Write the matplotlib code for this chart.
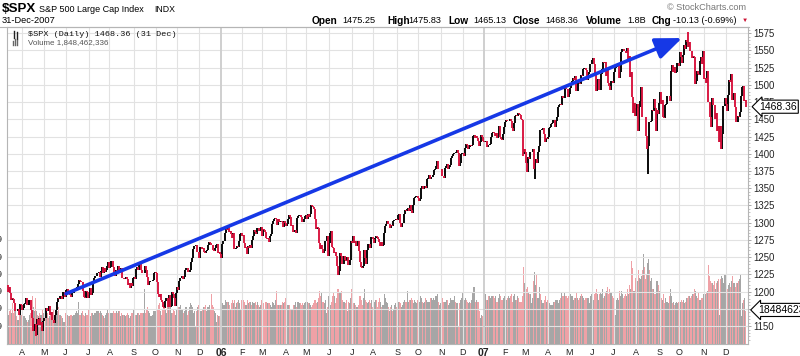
import numpy as np
import pandas as pd
import matplotlib
matplotlib.use("Agg")
import matplotlib.pyplot as plt
from matplotlib.lines import Line2D

plt.rcParams['font.family'] = ['Liberation Sans', 'DejaVu Sans']

# NYSE closed days inside the charted range
holidays = ['2005-03-25', '2005-05-30', '2005-07-04', '2005-09-05', '2005-11-24', '2005-12-26',
            '2006-01-02', '2006-01-16', '2006-02-20', '2006-04-14', '2006-05-29', '2006-07-04',
            '2006-09-04', '2006-11-23', '2006-12-25',
            '2007-01-01', '2007-01-02', '2007-01-15', '2007-02-19', '2007-04-06', '2007-05-28',
            '2007-07-04', '2007-09-03', '2007-11-22', '2007-12-25']

first_open = 1209.3

# daily closes, one row per month (2005 starts 11 Mar)
close_2005 = [
    1200.1, 1206.8, 1197.8, 1188.1, 1190.2, 1189.7, 1183.8, 1171.7, 1172.5, 1172.0, 1174.3, 1165.4, 1181.4, 1180.6,
    1172.9, 1176.1, 1181.4, 1184.1, 1191.1, 1181.2, 1181.2, 1187.8, 1173.8, 1162.1, 1142.6, 1146.0, 1152.8, 1137.5, 1160.0, 1152.1, 1162.1, 1151.8, 1156.4, 1143.2, 1156.9,
    1162.2, 1161.2, 1175.7, 1172.6, 1171.4, 1178.8, 1166.2, 1171.1, 1159.4, 1154.1, 1165.7, 1173.8, 1185.6, 1191.1, 1189.3, 1193.9, 1194.1, 1190.0, 1198.8, 1198.8, 1191.5,
    1202.2, 1204.3, 1196.0, 1197.3, 1194.7, 1191.6, 1197.3, 1198.1, 1200.8, 1203.0, 1206.6, 1211.0, 1217.0, 1216.1, 1213.6, 1213.9, 1200.7, 1191.6, 1190.7, 1201.6, 1199.9, 1191.3,
    1194.4, 1205.0, 1194.9, 1197.9, 1211.9, 1219.4, 1222.2, 1223.3, 1226.5, 1227.9, 1221.1, 1229.4, 1235.2, 1227.0, 1233.7, 1229.0, 1231.2, 1236.8, 1243.7, 1234.2,
    1235.4, 1244.1, 1245.0, 1235.9, 1226.4, 1223.1, 1231.4, 1229.1, 1237.8, 1230.4, 1233.9, 1219.3, 1220.2, 1219.0, 1219.7, 1221.7, 1217.6, 1209.6, 1212.4, 1205.1, 1212.3, 1208.4, 1220.3,
    1221.6, 1218.0, 1233.4, 1236.4, 1231.7, 1241.5, 1240.6, 1231.2, 1227.2, 1227.7, 1237.9, 1231.0, 1221.3, 1210.2, 1214.6, 1215.3, 1215.6, 1215.7, 1216.9, 1227.7, 1228.8,
    1226.7, 1214.5, 1196.4, 1191.5, 1195.9, 1187.3, 1184.9, 1177.7, 1176.8, 1186.6, 1190.1, 1178.1, 1195.8, 1177.8, 1179.6, 1199.4, 1196.5, 1191.4, 1178.9, 1198.4, 1207.0,
    1202.8, 1215.3, 1219.9, 1220.1, 1222.8, 1218.6, 1220.7, 1231.0, 1234.7, 1233.8, 1229.0, 1231.2, 1242.8, 1248.3, 1261.2, 1265.6, 1266.0, 1268.3, 1257.5, 1257.5, 1249.5,
    1264.7, 1265.1, 1262.1, 1263.7, 1257.4, 1255.8, 1259.4, 1260.4, 1267.4, 1272.7, 1270.9, 1267.3, 1259.9, 1259.6, 1262.8, 1268.1, 1268.7, 1256.5, 1258.2, 1254.4, 1248.3,
]
close_2006 = [
    1268.8, 1273.5, 1273.5, 1285.5, 1290.2, 1289.7, 1294.2, 1286.1, 1287.6, 1283.0, 1277.9, 1285.0, 1261.5, 1263.8, 1266.9, 1264.7, 1273.8, 1283.7, 1285.2, 1280.1,
    1282.5, 1270.8, 1264.0, 1265.0, 1254.8, 1265.6, 1263.8, 1267.0, 1262.9, 1275.5, 1280.0, 1289.4, 1287.2, 1283.0, 1292.7, 1287.8, 1289.4, 1294.1, 1280.7,
    1291.2, 1289.1, 1287.2, 1278.3, 1275.9, 1278.5, 1272.2, 1281.4, 1284.1, 1297.5, 1303.0, 1305.3, 1307.3, 1305.1, 1297.2, 1305.0, 1301.7, 1303.0, 1301.6, 1293.2, 1302.9, 1300.3, 1294.9,
    1297.8, 1305.9, 1311.6, 1309.0, 1295.5, 1296.6, 1286.6, 1288.1, 1289.1, 1285.3, 1307.3, 1309.9, 1311.5, 1311.3, 1308.1, 1301.7, 1305.4, 1309.7, 1310.6,
    1305.2, 1313.2, 1308.1, 1312.3, 1325.8, 1324.7, 1322.9, 1320.0, 1305.9, 1291.2, 1294.5, 1292.1, 1270.3, 1261.8, 1267.0, 1262.1, 1256.6, 1258.6, 1272.9, 1280.2, 1251.9, 1270.1,
    1285.7, 1288.2, 1265.3, 1263.9, 1256.2, 1257.9, 1252.3, 1237.4, 1223.7, 1230.0, 1256.2, 1251.5, 1240.1, 1240.1, 1252.2, 1245.6, 1244.5, 1250.6, 1239.2, 1246.0, 1272.9, 1270.2,
    1280.2, 1270.9, 1274.1, 1265.5, 1267.3, 1273.4, 1258.6, 1242.3, 1236.2, 1234.5, 1236.9, 1259.8, 1249.1, 1240.3, 1260.9, 1268.9, 1268.4, 1263.2, 1278.6, 1276.7,
    1270.9, 1277.4, 1280.3, 1279.4, 1275.8, 1271.5, 1266.0, 1271.8, 1266.7, 1268.2, 1285.6, 1295.4, 1297.5, 1302.3, 1297.5, 1298.8, 1293.0, 1296.1, 1295.1, 1301.8, 1304.3, 1305.4, 1303.8,
    1311.0, 1313.3, 1300.3, 1294.0, 1298.9, 1299.5, 1313.0, 1318.1, 1316.3, 1319.7, 1321.2, 1317.6, 1325.2, 1318.0, 1314.8, 1326.4, 1336.4, 1336.6, 1339.2, 1335.9,
    1331.3, 1334.1, 1350.2, 1353.2, 1349.6, 1350.7, 1353.4, 1350.0, 1362.8, 1365.6, 1369.1, 1364.1, 1365.8, 1367.0, 1368.6, 1377.0, 1377.4, 1382.2, 1389.1, 1377.3, 1377.9, 1377.9,
    1367.8, 1367.3, 1364.3, 1379.8, 1382.8, 1385.7, 1378.3, 1380.9, 1384.4, 1393.2, 1396.6, 1399.8, 1401.2, 1400.5, 1402.8, 1406.1, 1401.0, 1382.0, 1386.7, 1399.5, 1400.6,
    1396.7, 1409.1, 1414.8, 1412.9, 1407.3, 1409.8, 1413.0, 1411.6, 1413.2, 1425.5, 1427.1, 1422.5, 1425.6, 1423.5, 1418.3, 1410.8, 1416.9, 1426.8, 1424.7, 1418.3,
]
close_2007 = [
    1416.6, 1418.3, 1409.7, 1412.8, 1412.1, 1414.9, 1423.8, 1430.7, 1431.9, 1430.6, 1426.4, 1430.5, 1423.0, 1428.0, 1440.1, 1423.9, 1422.2, 1420.6, 1428.8, 1438.2,
    1445.9, 1448.4, 1447.0, 1448.0, 1450.0, 1448.3, 1438.1, 1433.4, 1444.3, 1455.3, 1456.8, 1455.5, 1459.7, 1457.6, 1456.4, 1451.2, 1449.4, 1399.0, 1406.8,
    1403.2, 1387.2, 1374.1, 1395.4, 1392.0, 1401.9, 1402.8, 1406.6, 1378.0, 1387.2, 1392.3, 1387.0, 1402.1, 1410.9, 1435.0, 1434.5, 1436.1, 1437.5, 1428.6, 1417.2, 1422.5, 1420.9,
    1424.6, 1437.8, 1439.4, 1443.8, 1444.6, 1448.4, 1438.9, 1447.8, 1452.9, 1468.3, 1471.5, 1472.5, 1470.7, 1484.4, 1480.9, 1480.4, 1495.4, 1494.3, 1494.1, 1482.4,
    1486.3, 1495.9, 1502.4, 1505.6, 1509.5, 1507.7, 1512.6, 1491.5, 1505.9, 1503.2, 1501.2, 1514.1, 1512.8, 1522.8, 1525.1, 1524.1, 1522.3, 1507.5, 1515.7, 1518.1, 1530.2, 1530.6,
    1536.3, 1539.2, 1531.0, 1517.4, 1490.7, 1507.7, 1509.1, 1493.0, 1515.7, 1523.0, 1532.9, 1531.1, 1533.7, 1512.8, 1522.2, 1502.6, 1497.7, 1492.9, 1506.3, 1505.7, 1503.4,
    1519.4, 1524.9, 1525.4, 1530.4, 1531.9, 1510.1, 1518.8, 1547.7, 1552.5, 1549.5, 1549.4, 1546.2, 1553.1, 1534.1, 1541.6, 1511.0, 1518.1, 1482.7, 1459.0, 1473.9, 1455.3,
    1465.8, 1472.2, 1433.1, 1467.7, 1476.7, 1497.5, 1453.1, 1453.6, 1452.9, 1426.5, 1406.7, 1411.3, 1445.9, 1445.6, 1447.1, 1464.1, 1462.5, 1479.4, 1466.8, 1432.4, 1463.8, 1457.6, 1474.0,
    1489.4, 1472.3, 1478.6, 1453.6, 1451.7, 1471.5, 1471.6, 1484.0, 1484.3, 1476.7, 1519.8, 1529.0, 1518.8, 1525.8, 1517.7, 1518.0, 1531.4, 1531.4, 1526.8,
    1547.0, 1541.0, 1531.4, 1542.8, 1557.6, 1552.6, 1565.2, 1562.5, 1554.4, 1561.8, 1548.7, 1538.5, 1541.2, 1540.1, 1500.6, 1506.3, 1519.6, 1515.9, 1514.4, 1535.3, 1541.0, 1531.0, 1549.4,
    1508.4, 1509.7, 1502.2, 1520.3, 1475.6, 1474.8, 1453.7, 1439.2, 1481.1, 1470.6, 1451.2, 1458.7, 1433.3, 1439.7, 1416.8, 1440.7, 1407.2, 1428.2, 1469.0, 1469.7, 1481.1,
    1472.4, 1462.8, 1485.0, 1507.3, 1504.7, 1516.0, 1477.7, 1486.6, 1488.4, 1468.0, 1445.9, 1455.0, 1453.0, 1460.1, 1484.5, 1496.5, 1497.7, 1476.3, 1478.5, 1468.4,
]

# daily volume in tenths of a billion shares
vol_2005 = [
    17, 16, 18, 19, 17, 22, 17, 19, 18, 15, 13, 17, 18, 16,
    16, 15, 15, 14, 13, 12, 13, 16, 17, 19, 26, 20, 18, 25, 18, 16, 15, 17, 16, 19, 17,
    15, 17, 18, 17, 14, 15, 16, 16, 16, 19, 16, 18, 20, 18, 20, 16, 16, 15, 14, 12, 17,
    18, 16, 15, 15, 16, 16, 15, 16, 16, 17, 18, 17, 23, 16, 16, 17, 18, 16, 15, 17, 16, 19,
    14, 15, 17, 17, 16, 17, 17, 18, 18, 18, 17, 18, 17, 16, 15, 14, 16, 17, 19, 17,
    17, 17, 17, 18, 17, 17, 18, 17, 18, 18, 15, 17, 16, 16, 16, 15, 16, 17, 16, 14, 15, 17, 19,
    18, 16, 16, 17, 17, 16, 17, 17, 17, 17, 30, 17, 19, 20, 18, 17, 15, 15, 16, 18, 18,
    17, 19, 21, 22, 18, 16, 19, 21, 21, 19, 17, 20, 22, 24, 22, 17, 17, 19, 18, 16, 19,
    20, 20, 21, 19, 19, 17, 18, 20, 20, 16, 18, 20, 22, 21, 20, 17, 18, 10, 18, 20, 21,
    21, 18, 19, 20, 20, 21, 18, 20, 20, 21, 19, 27, 21, 20, 18, 17, 12, 16, 15, 15, 14,
]
vol_2006 = [
    20, 22, 21, 24, 23, 23, 23, 21, 19, 22, 24, 22, 24, 20, 22, 23, 24, 22, 19, 24,
    24, 24, 23, 21, 24, 22, 23, 23, 21, 23, 22, 22, 23, 21, 23, 21, 20, 21, 24,
    21, 22, 19, 23, 23, 22, 22, 21, 20, 23, 22, 21, 24, 29, 21, 21, 21, 21, 21, 23, 22, 23, 25,
    21, 21, 21, 21, 19, 19, 21, 21, 23, 20, 23, 23, 22, 22, 21, 22, 21, 22, 23,
    23, 23, 22, 22, 21, 20, 21, 22, 24, 22, 23, 25, 29, 26, 28, 23, 23, 22, 24, 17, 20, 26,
    24, 21, 23, 26, 28, 26, 22, 25, 30, 28, 28, 29, 24, 23, 23, 22, 24, 18, 23, 22, 25, 30,
    16, 22, 22, 21, 20, 20, 21, 26, 24, 21, 25, 30, 24, 23, 22, 23, 24, 22, 24, 20,
    24, 23, 24, 24, 20, 23, 25, 23, 20, 21, 27, 25, 23, 22, 20, 18, 20, 21, 18, 19, 21, 22, 20,
    22, 23, 23, 22, 20, 21, 23, 24, 23, 29, 23, 24, 24, 25, 24, 22, 24, 23, 22, 24,
    21, 23, 26, 25, 23, 22, 23, 25, 24, 23, 23, 25, 25, 24, 25, 24, 26, 26, 27, 23, 21, 22,
    26, 25, 23, 23, 23, 24, 24, 21, 22, 25, 24, 24, 26, 23, 22, 22, 10, 22, 24, 25, 28,
    25, 24, 25, 24, 23, 22, 23, 22, 24, 28, 31, 23, 24, 23, 23, 18, 14, 16, 15, 14,
]
vol_2007 = [
    27, 27, 24, 24, 26, 26, 25, 26, 26, 26, 25, 26, 23, 25, 27, 26, 24, 24, 25, 26,
    26, 24, 25, 26, 25, 26, 27, 23, 26, 27, 24, 24, 26, 25, 23, 23, 26, 42, 33,
    30, 30, 31, 28, 27, 27, 22, 25, 34, 39, 32, 38, 25, 25, 31, 27, 24, 22, 24, 26, 23, 24,
    23, 22, 21, 21, 21, 23, 23, 24, 24, 24, 22, 24, 25, 28, 26, 26, 28, 26, 25, 26,
    27, 27, 26, 26, 24, 25, 25, 28, 25, 24, 25, 26, 27, 26, 25, 24, 25, 25, 25, 22, 26, 27,
    27, 24, 27, 28, 30, 27, 24, 27, 28, 27, 30, 25, 26, 28, 29, 31, 27, 30, 28, 26, 25,
    23, 16, 24, 25, 24, 29, 26, 29, 27, 25, 26, 27, 26, 30, 27, 32, 30, 45, 41, 29, 36,
    34, 34, 40, 36, 35, 37, 40, 49, 42, 35, 38, 44, 46, 40, 34, 36, 30, 30, 27, 27, 34, 32, 29,
    22, 25, 24, 27, 22, 25, 23, 23, 22, 26, 30, 26, 22, 23, 21, 22, 23, 22, 23,
    23, 24, 23, 24, 22, 23, 25, 25, 26, 26, 25, 26, 27, 27, 30, 29, 26, 25, 28, 24, 24, 25, 27,
    29, 27, 28, 29, 43, 37, 34, 33, 33, 32, 34, 30, 33, 34, 35, 16, 35, 37, 36, 33, 38,
    31, 30, 32, 33, 31, 34, 37, 33, 33, 31, 33, 33, 34, 35, 38, 15, 22, 24, 25, 18,
]

# intraday extremes that stick out of the close-to-close bars
wick_dates = ['2005-04-20', '2007-02-27', '2007-03-14', '2007-08-16', '2007-10-11', '2007-11-26']
wick_prices = [1136.2, 1396.7, 1364.0, 1370.6, 1576.1, 1406.8]

# hand drawn trend arrow
trend_dates = ['2005-06-01', '2007-10-03']
trend_prices = [1197, 1568]

last_close = 1468.36
last_volume = 1848462336
price_ticks = list(range(1150, 1576, 25))
month_letters = 'JFMAMJJASOND'

days = pd.bdate_range('2005-03-11', '2007-12-31')
days = days[~days.isin(pd.to_datetime(holidays))]
close = np.array(close_2005 + close_2006 + close_2007)
vol = np.array(vol_2005 + vol_2006 + vol_2007) / 10.0
assert len(days) == len(close) == len(vol), (len(days), len(close), len(vol))
n = len(close)
x = np.arange(n)

prev = np.concatenate([[first_open], close[:-1]])
lo = np.minimum(prev, close)
hi = np.maximum(prev, close)
for d, p in zip(wick_dates, wick_prices):
    i = days.get_loc(pd.Timestamp(d))
    lo[i] = min(lo[i], p)
    hi[i] = max(hi[i], p)
up = close >= prev

W, H = 800, 356
fig = plt.figure(figsize=(W / 100, H / 100), dpi=100)
fig.patch.set_facecolor('white')
rect = [7 / W, 1 - 344 / H, 741 / W, 317 / H]

# volume underneath
axv = fig.add_axes(rect)
axv.bar(x[up], vol[up], width=1.0, color='#a6a6a6', edgecolor='none')
axv.bar(x[~up], vol[~up], width=1.0, color='#efa1a6', edgecolor='none')
axv.set_xlim(-0.5, n + 1)
axv.set_ylim(0, 17.2)
axv.set_xticks([])
axv.set_yticks([])
for s in axv.spines.values():
    s.set_visible(False)

# price on top
ax = fig.add_axes(rect)
ax.patch.set_visible(False)
ax.vlines(x[up], lo[up], hi[up], color='black', lw=1.35, zorder=3)
ax.vlines(x[~up], lo[~up], hi[~up], color='#d8123c', lw=1.35, zorder=3)
ax.set_xlim(-0.5, n + 1)
ax.set_ylim(1124, 1584)

# grid
for p in price_ticks:
    ax.axhline(p, color='#e2e2e2', lw=0.8, zorder=1)
month_start = np.flatnonzero(np.r_[True, days.month[1:] != days.month[:-1]])[1:]
for i in month_start:
    if days[i].month == 1:
        ax.axvline(i - 0.5, color='#cfcfcf', lw=1.4, zorder=1)
    else:
        ax.axvline(i - 0.5, color='#e2e2e2', lw=0.8, zorder=1)

ax.yaxis.tick_right()
ax.set_yticks(price_ticks)
ax.set_yticklabels([str(p) for p in price_ticks], fontsize=6.9, color='#222222')
ax.set_yticks(range(1130, 1585, 5), minor=True)
ax.tick_params(axis='y', which='major', length=2.5, width=0.6, color='#999999', pad=1.5)
ax.tick_params(axis='y', which='minor', length=1.5, width=0.5, color='#aaaaaa')

ax.set_xticks(month_start - 0.5)
labels = []
for i in month_start:
    d = days[i]
    labels.append(d.strftime('%y') if d.month == 1 else month_letters[d.month - 1])
ax.set_xticklabels(labels, fontsize=6.5, color='#222222')
for t, i in zip(ax.get_xticklabels(), month_start):
    if days[i].month == 1:
        t.set_fontweight('bold')
        t.set_fontsize(7.5)
ax.tick_params(axis='x', length=0, pad=3)
for s in ax.spines.values():
    s.set_color('#b5b5b5')
    s.set_linewidth(0.8)

# trend arrow
i0 = days.get_loc(pd.Timestamp(trend_dates[0]))
i1 = days.get_loc(pd.Timestamp(trend_dates[1]))
ax.annotate('', xy=(i1, trend_prices[1]), xytext=(i0, trend_prices[0]),
            arrowprops=dict(arrowstyle='-|>,head_length=1.6,head_width=0.65',
                            color='#1638e6', lw=2.6, shrinkA=0, shrinkB=0), zorder=5)

# last value tags on the right
tag_box = dict(boxstyle='larrow,pad=0.15', fc='white', ec='black', lw=0.8)
ax.annotate('%.2f' % last_close, xy=(1.0, last_close), xycoords=('axes fraction', 'data'),
            xytext=(8, 0), textcoords='offset points', fontsize=7.5, va='center', ha='left',
            bbox=tag_box, zorder=6, annotation_clip=False)
ax.annotate(str(last_volume), xy=(1.0, last_volume / 1e9), xycoords=('axes fraction', axv.transData),
            xytext=(7, 0), textcoords='offset points', fontsize=7.5, va='center', ha='left',
            bbox=tag_box, zorder=6, annotation_clip=False)

# clipped volume labels at far left
for p in price_ticks[:6]:
    ax.annotate('999', xy=(0, p), xycoords=('figure pixels', 'data'), xytext=(3, 0),
                textcoords='offset pixels', fontsize=6.5, ha='right', va='center',
                color='#222222', annotation_clip=False)

# inside legend
ax.text(21 / 741, 1 - 8 / 317, '$SPX (Daily) %.2f (31 Dec)' % last_close, transform=ax.transAxes,
        fontsize=6.1, family='Liberation Mono', va='center', ha='left', color='#111111')
ax.text(21 / 741, 1 - 15.5 / 317, 'Volume 1,848,462,336', transform=ax.transAxes,
        fontsize=5.8, va='center', ha='left', color='#555555')
# small glyphs in front of the legend lines
for gx, gy0, gy1 in [(14, 31, 38), (17, 32, 39)]:
    fig.add_artist(Line2D([gx / W, gx / W], [1 - gy0 / H, 1 - gy1 / H], color='#222222', lw=1.0))
for gx, gh in [(13, 4), (15, 6), (17, 5)]:
    fig.add_artist(Line2D([gx / W, gx / W], [1 - 45 / H, 1 - (45 - gh) / H], color='#666666', lw=1.0))

# header
def px(xp, yp):
    return xp / W, 1 - yp / H

fig.text(*px(2, 9), '$SPX', fontsize=9.6, fontweight='bold', va='center')
fig.text(*px(39, 9.5), 'S&P 500 Large Cap Index', fontsize=6.5, va='center')
fig.text(*px(154, 9.5), 'INDX', fontsize=6.3, va='center')
fig.text(*px(2, 20.5), '31-Dec-2007', fontsize=6.7, va='center')
fig.text(*px(667, 8), '\u00a9 StockCharts.com', fontsize=6.6, va='center', color='#777777')

quote = [(312, 'Open', True), (342, '1475.25', False), (387, 'High', True), (408, '1475.83', False),
         (448, 'Low', True), (473, '1465.13', False), (513, 'Close', True), (545, '1468.36', False),
         (586, 'Volume', True), (627, '1.8B', False), (652, 'Chg', True), (673, '-10.13 (-0.69%)', False)]
for xp, s, b in quote:
    fig.text(*px(xp, 20.5), s, fontsize=7.3 if b else 6.6, fontweight='bold' if b else 'normal',
             va='center')
fig.text(*px(742, 20.5), '\u25bc', fontsize=4.5, va='center', color='#cc1133')

fig.add_artist(Line2D([0, 749 / W], [1 - 26.5 / H, 1 - 26.5 / H], color='#b5b5b5', lw=0.8))

fig.savefig('out.png', dpi=100, facecolor='white')
